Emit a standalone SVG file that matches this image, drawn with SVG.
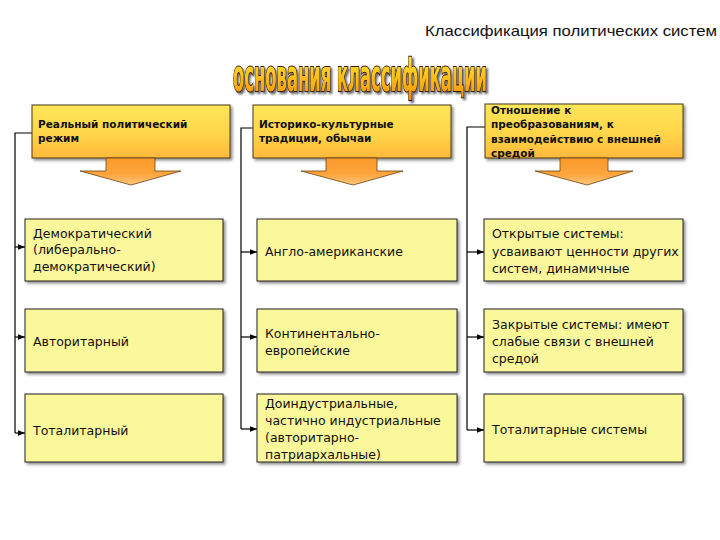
<svg xmlns="http://www.w3.org/2000/svg" width="720" height="540" viewBox="0 0 720 540">
<defs>
<linearGradient id="hdrGrad" x1="0" y1="0" x2="0" y2="1">
<stop offset="0" stop-color="#FFE65A"/>
<stop offset="0.55" stop-color="#FFD548"/>
<stop offset="1" stop-color="#FFB83C"/>
</linearGradient>
<linearGradient id="arrGrad" x1="0" y1="0" x2="0" y2="1">
<stop offset="0" stop-color="#FB9A2C"/>
<stop offset="0.6" stop-color="#FDA43C"/>
<stop offset="1" stop-color="#FFC77E"/>
</linearGradient>
<linearGradient id="titleGrad" x1="0" y1="0" x2="0" y2="1">
<stop offset="0" stop-color="#FFF04A"/>
<stop offset="0.5" stop-color="#FFC21A"/>
<stop offset="1" stop-color="#F08A00"/>
</linearGradient>
<filter id="shadow" x="-10%" y="-10%" width="130%" height="140%">
<feGaussianBlur in="SourceAlpha" stdDeviation="1.5"/>
<feOffset dx="2" dy="2" result="b"/>
<feComponentTransfer><feFuncA type="linear" slope="0.45"/></feComponentTransfer>
<feMerge><feMergeNode/><feMergeNode in="SourceGraphic"/></feMerge>
</filter>
<filter id="tshadow" x="-5%" y="-20%" width="110%" height="150%">
<feGaussianBlur in="SourceAlpha" stdDeviation="1.2"/>
<feOffset dx="2" dy="2"/>
<feComponentTransfer><feFuncA type="linear" slope="0.6"/></feComponentTransfer>
<feMerge><feMergeNode/><feMergeNode in="SourceGraphic"/></feMerge>
</filter>
<marker id="ah" viewBox="0 0 10 10" refX="10" refY="5" markerWidth="7" markerHeight="7" markerUnits="userSpaceOnUse" orient="auto">
<path d="M0,1 L10,5 L0,9 Z" fill="#000"/>
</marker>
<style>
.hdr{fill:url(#hdrGrad);stroke:#4a3a1a;stroke-width:1;filter:url(#shadow)}
.arr{fill:url(#arrGrad);stroke:#6a4310;stroke-width:0.8}
.box{fill:#FBF79B;stroke:#222;stroke-width:1;filter:url(#shadow)}
.ht{font-family:"DejaVu Sans",Verdana,sans-serif;font-weight:bold;font-size:10.5px;fill:#111}
.bt{font-family:"DejaVu Sans",Verdana,sans-serif;font-size:12.5px;fill:#111}
.conn{fill:none;stroke:#000;stroke-width:1.2}
</style>
</defs>
<rect width="720" height="540" fill="#fff"/>

<text x="425" y="36" font-family="'Liberation Sans',Arial,sans-serif" font-size="14.5" fill="#111" textLength="292" lengthAdjust="spacingAndGlyphs">Классификация политических систем</text>

<g id="title" filter="url(#tshadow)">
<text transform="translate(360,91) scale(1,1.5)" text-anchor="middle" font-family="'DejaVu Sans Condensed','DejaVu Sans',sans-serif" font-weight="bold" font-size="30" fill="url(#titleGrad)" stroke="#3a1f00" stroke-width="1.4" paint-order="stroke" textLength="254" lengthAdjust="spacingAndGlyphs">основания классификации</text>
</g>

<g id="connectors">
<path class="conn" d="M32,133 H15 V433"/>
<path class="conn" d="M15,247 H25" marker-end="url(#ah)"/>
<path class="conn" d="M15,337 H25" marker-end="url(#ah)"/>
<path class="conn" d="M15,433 H25" marker-end="url(#ah)"/>
<path class="conn" d="M253,128 H241 V429"/>
<path class="conn" d="M241,252 H257" marker-end="url(#ah)"/>
<path class="conn" d="M241,337 H257" marker-end="url(#ah)"/>
<path class="conn" d="M241,429 H257" marker-end="url(#ah)"/>
<path class="conn" d="M485,127 H467 V430"/>
<path class="conn" d="M467,252 H484" marker-end="url(#ah)"/>
<path class="conn" d="M467,337 H484" marker-end="url(#ah)"/>
<path class="conn" d="M467,430 H484" marker-end="url(#ah)"/>
</g>

<g id="h1">
<rect class="hdr" x="32" y="105" width="198" height="53"/>
<path class="arr" d="M106,158 H155 V171 H181 L131,185 L80,171 H106 Z"/>
<text class="ht" x="38" y="128">Реальный политический</text>
<text class="ht" x="38" y="142">режим</text>
</g>
<g id="h2">
<rect class="hdr" x="253" y="105" width="198" height="53"/>
<path class="arr" d="M326,158 H377 V171 H403 L353,185 L301,171 H326 Z"/>
<text class="ht" x="259" y="128">Историко-культурные</text>
<text class="ht" x="259" y="142">традиции, обычаи</text>
</g>
<g id="h3">
<rect class="hdr" x="485" y="104" width="198" height="54"/>
<path class="arr" d="M560,158 H608 V171 H633 L587,185 L535,171 H560 Z"/>
<text class="ht" x="491" y="114">Отношение к</text>
<text class="ht" x="491" y="128">преобразованиям, к</text>
<text class="ht" x="491" y="143">взаимодействию с внешней</text>
<text class="ht" x="491" y="157">средой</text>
</g>

<g id="c1r1">
<rect class="box" x="25" y="219" width="198" height="62"/>
<text class="bt" x="33" y="238">Демократический</text>
<text class="bt" x="33" y="254">(либерально-</text>
<text class="bt" x="33" y="271">демократический)</text>
</g>
<g id="c1r2">
<rect class="box" x="25" y="309" width="198" height="63"/>
<text class="bt" x="33" y="346">Авторитарный</text>
</g>
<g id="c1r3">
<rect class="box" x="25" y="394" width="198" height="68"/>
<text class="bt" x="33" y="435">Тоталитарный</text>
</g>

<g id="c2r1">
<rect class="box" x="257" y="219" width="200" height="62"/>
<text class="bt" x="265" y="256">Англо-американские</text>
</g>
<g id="c2r2">
<rect class="box" x="257" y="309" width="200" height="63"/>
<text class="bt" x="265" y="338">Континентально-</text>
<text class="bt" x="265" y="355">европейские</text>
</g>
<g id="c2r3">
<rect class="box" x="257" y="394" width="200" height="68"/>
<text class="bt" x="265" y="408">Доиндустриальные,</text>
<text class="bt" x="265" y="425">частично индустриальные</text>
<text class="bt" x="265" y="442">(авторитарно-</text>
<text class="bt" x="265" y="459">патриархальные)</text>
</g>

<g id="c3r1">
<rect class="box" x="484" y="219" width="199" height="62"/>
<text class="bt" x="492" y="238">Открытые системы:</text>
<text class="bt" x="492" y="256">усваивают ценности других</text>
<text class="bt" x="492" y="273">систем, динамичные</text>
</g>
<g id="c3r2">
<rect class="box" x="484" y="309" width="199" height="63"/>
<text class="bt" x="492" y="329">Закрытые системы: имеют</text>
<text class="bt" x="492" y="346">слабые связи с внешней</text>
<text class="bt" x="492" y="363">средой</text>
</g>
<g id="c3r3">
<rect class="box" x="484" y="394" width="199" height="68"/>
<text class="bt" x="492" y="434">Тоталитарные системы</text>
</g>
</svg>
